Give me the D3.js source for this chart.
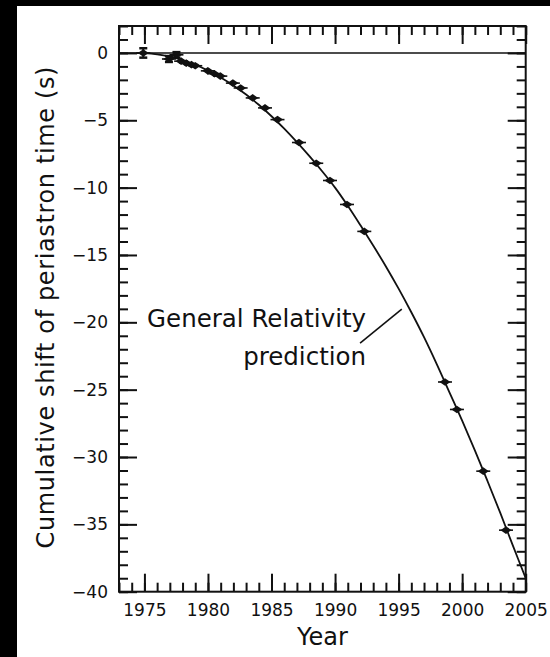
<!DOCTYPE html>
<html><head><meta charset="utf-8">
<script src="https://cdn.jsdelivr.net/npm/d3@7"></script>
<style>
html,body{margin:0;padding:0;background:#000;}
svg{display:block;}
text{font-family:"DejaVu Sans",sans-serif;fill:#111;}
</style></head>
<body>
<script>
// Observed data (year, cumulative shift in s, error in s)
const obsYears = [1974.91, 1976.93, 1977.52, 1977.89, 1978.29, 1978.70, 1979.00, 1979.99, 1980.51, 1980.97, 1981.96, 1982.57, 1983.52, 1984.49, 1985.47, 1987.16, 1988.52, 1989.60, 1990.94, 1992.30, 1998.65, 1999.59, 2001.66, 2003.45];
const obsShift = [0.0, -0.45, -0.14, -0.61, -0.76, -0.87, -0.95, -1.33, -1.54, -1.72, -2.24, -2.60, -3.34, -4.08, -4.95, -6.65, -8.19, -9.47, -11.25, -13.25, -24.43, -26.47, -31.05, -35.43];
const obsErr   = [0.35, 0.22, 0.2, 0.05, 0.05, 0.05, 0.05, 0.05, 0.05, 0.05, 0.05, 0.05, 0.05, 0.05, 0.05, 0.05, 0.05, 0.05, 0.05, 0.05, 0.05, 0.05, 0.05, 0.05];

// General Relativity prediction curve
const grYears = [1974.4, 1975, 1976, 1977, 1978, 1979, 1980, 1981, 1982, 1983, 1984, 1985, 1986, 1987, 1988, 1989, 1990, 1991, 1992, 1993, 1994, 1995, 1996, 1997, 1998, 1999, 2000, 2001, 2002, 2003, 2004, 2005];
const grShift = [0, -0.02, -0.11, -0.28, -0.54, -0.88, -1.31, -1.82, -2.41, -3.09, -3.85, -4.70, -5.62, -6.62, -7.68, -8.8, -10.0, -11.35, -12.8, -14.3, -15.85, -17.5, -19.25, -21.1, -23.1, -25.2, -27.3, -29.5, -31.8, -34.15, -36.6, -39.0];

// Axis ticks
const xMajorTicks = [1975, 1980, 1985, 1990, 1995, 2000, 2005];
const xMinorTicks = d3.range(1973, 2006, 1);
const yMajorTicks = [0, -5, -10, -15, -20, -25, -30, -35, -40];
const yMinorTicks = d3.range(-40, 3, 1);

const xLabel = "Year";
const yLabel = "Cumulative shift of periastron time (s)";
const annoLines = ["General Relativity", "prediction"];

const W = 550, H = 657;
const L = 119, R = 525.7, T = 26, B = 591.7;

const x = d3.scaleLinear().domain([1973, 2005]).range([L, R]);
const y = d3.scaleLinear().domain([-40, 2]).range([B, T]);

const svg = d3.select("body").append("svg").attr("width", W).attr("height", H);
svg.append("rect").attr("width", W).attr("height", H).attr("fill", "#000");
svg.append("rect").attr("x", 17).attr("y", 6).attr("width", W - 17).attr("height", H - 6).attr("fill", "#fff");

svg.append("clipPath").attr("id", "clip").append("rect")
  .attr("x", L).attr("y", T).attr("width", R - L).attr("height", B - T);

const MAJ = 18, MIN = 9;
function styleAxis(g) {
  g.select(".domain").remove();
  g.selectAll(".tick line").attr("stroke", "#111").attr("stroke-width", 2);
  g.selectAll("text").attr("font-size", "17px").attr("fill", "#111")
    .attr("font-family", '"DejaVu Sans",sans-serif');
}
// bottom
svg.append("g").attr("transform", `translate(0,${B})`)
  .call(d3.axisBottom(x).tickValues(xMinorTicks).tickSize(-MIN).tickFormat("")).call(styleAxis);
svg.append("g").attr("transform", `translate(0,${B})`)
  .call(d3.axisBottom(x).tickValues(xMajorTicks).tickSize(-MAJ).tickPadding(12).tickFormat(d3.format("d"))).call(styleAxis);
// top
svg.append("g").attr("transform", `translate(0,${T})`)
  .call(d3.axisTop(x).tickValues(xMinorTicks).tickSize(-MIN).tickFormat("")).call(styleAxis);
svg.append("g").attr("transform", `translate(0,${T})`)
  .call(d3.axisTop(x).tickValues(xMajorTicks).tickSize(-MAJ).tickFormat("")).call(styleAxis);
// left
svg.append("g").attr("transform", `translate(${L},0)`)
  .call(d3.axisLeft(y).tickValues(yMinorTicks).tickSize(-MIN).tickFormat("")).call(styleAxis);
svg.append("g").attr("transform", `translate(${L},0)`)
  .call(d3.axisLeft(y).tickValues(yMajorTicks).tickSize(-MAJ).tickPadding(11)).call(styleAxis);
// right
svg.append("g").attr("transform", `translate(${R},0)`)
  .call(d3.axisRight(y).tickValues(yMinorTicks).tickSize(-MIN).tickFormat("")).call(styleAxis);
svg.append("g").attr("transform", `translate(${R},0)`)
  .call(d3.axisRight(y).tickValues(yMajorTicks).tickSize(-MAJ).tickFormat("")).call(styleAxis);

// frame
svg.append("rect").attr("x", L).attr("y", T).attr("width", R - L).attr("height", B - T)
  .attr("fill", "none").attr("stroke", "#111").attr("stroke-width", 2);

// zero line
svg.append("line").attr("x1", x(1973)).attr("x2", x(2005)).attr("y1", y(0)).attr("y2", y(0))
  .attr("stroke", "#111").attr("stroke-width", 1.6);

// GR curve
const grData = grYears.map((t, i) => [t, grShift[i]]);
svg.append("path").datum(grData).attr("clip-path", "url(#clip)")
  .attr("fill", "none").attr("stroke", "#111").attr("stroke-width", 1.8)
  .attr("d", d3.line().x(d => x(d[0])).y(d => y(d[1])).curve(d3.curveCatmullRom)(grData));

// observations
const obs = obsYears.map((t, i) => ({t, v: obsShift[i], e: obsErr[i]}));
const pts = svg.append("g");
obs.filter(d => d.e > 0.1).forEach(d => {
  pts.append("line").attr("x1", x(d.t)).attr("x2", x(d.t)).attr("y1", y(d.v + d.e)).attr("y2", y(d.v - d.e))
    .attr("stroke", "#111").attr("stroke-width", 2);
  [d.v + d.e, d.v - d.e].forEach(v => pts.append("line")
    .attr("x1", x(d.t) - 4).attr("x2", x(d.t) + 4).attr("y1", y(v)).attr("y2", y(v))
    .attr("stroke", "#111").attr("stroke-width", 2.5));
});
obs.forEach(d => {
  const cx = x(d.t), cy = y(d.v);
  pts.append("line").attr("x1", cx - 7).attr("x2", cx + 7).attr("y1", cy).attr("y2", cy)
    .attr("stroke", "#111").attr("stroke-width", 1.6);
  pts.append("path").attr("transform", `translate(${cx},${cy})`)
    .attr("d", "M0,-3.8L5.5,0L0,3.8L-5.5,0Z").attr("fill", "#111");
});

// annotation
const annoX = 1992.44, annoY1 = -20.37, annoY2 = -23.19;
svg.append("text").attr("x", x(annoX)).attr("y", y(annoY1)).attr("text-anchor", "end")
  .attr("font-size", "24.5px").text(annoLines[0]);
svg.append("text").attr("x", x(annoX)).attr("y", y(annoY2)).attr("text-anchor", "end")
  .attr("font-size", "24.5px").text(annoLines[1]);
svg.append("line").attr("x1", x(1991.97)).attr("y1", y(-21.54)).attr("x2", x(1995.25)).attr("y2", y(-19.02))
  .attr("stroke", "#111").attr("stroke-width", 1.6);

// axis titles
svg.append("text").attr("x", (L + R) / 2).attr("y", 645).attr("text-anchor", "middle")
  .attr("font-size", "24px").text(xLabel);
svg.append("text").attr("transform", `translate(54,${(65 + 550) / 2}) rotate(-90)`)
  .attr("text-anchor", "middle").attr("font-size", "24px")
  .attr("textLength", 482).attr("lengthAdjust", "spacing").text(yLabel);
</script>
</body></html>
